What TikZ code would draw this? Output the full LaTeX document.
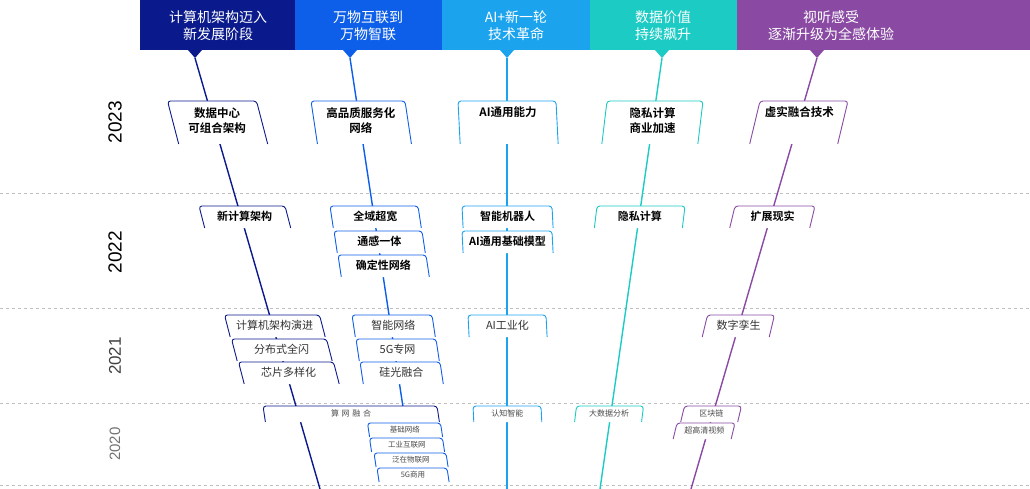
\documentclass[tikz,border=0pt]{standalone}
\usepackage{fontspec}
\setmainfont{Noto Sans CJK SC}[BoldFont={Noto Sans CJK SC Bold}]
\newfontfamily\yrfont{Liberation Sans}
\definecolor{cA}{HTML}{0A1A8C}
\definecolor{cB}{HTML}{0D5EE8}
\definecolor{cC}{HTML}{1BA3EE}
\definecolor{cD}{HTML}{1CCBC3}
\definecolor{cE}{HTML}{8A4AA3}
\newcommand\tb[9]{%
  \fill[white] ({#2-#4/2+#6*#5},{#3+#5}) -- ({#2-#4/2},#3) -- ({#2+#4/2},#3) -- ({#2+#4/2+#6*#5},{#3+#5}) -- cycle;
  \draw[#7,line width=0.9pt,rounded corners=3pt] ({#2-#4/2+#6*#5},{#3+#5}) -- ({#2-#4/2},#3) -- ({#2+#4/2},#3) -- ({#2+#4/2+#6*#5},{#3+#5});
  \node[#9] (#1) at ({#2+#6*#5*0.45},{#3+#5*0.45}) {#8};}
\tikzset{
  hd/.style={text=white,font=\fontsize{14}{17}\selectfont,align=center},
  ta/.style={font=\bfseries\fontsize{11.5}{15}\selectfont,align=center,text=black},
  tbs/.style={font=\bfseries\fontsize{11}{13}\selectfont,text=black},
  tc/.style={font=\fontsize{11}{13}\selectfont,text=black!80},
  td/.style={font=\fontsize{8}{10}\selectfont,text=black!70},
  te/.style={font=\fontsize{7.5}{9}\selectfont,text=black!70},
  ln/.style={line width=1.4pt},
  grid/.style={gray!50,dashed,line width=0.6pt},
  yr/.style={rotate=90,font=\yrfont\fontsize{19}{19}\selectfont}
}
\begin{document}
\begin{tikzpicture}[x=1pt,y=-1pt]
\useasboundingbox (0,0) rectangle (1030,489);
% header bands
\fill[cA] (140,0) rectangle (295,50);
\fill[cB] (295,0) rectangle (442,50);
\fill[cC] (442,0) rectangle (590,50);
\fill[cD] (590,0) rectangle (737,50);
\fill[cE] (737,0) rectangle (1030,50);
\node[hd] (h1) at (218,26) {计算机架构迈入\\新发展阶段};
\node[hd] (h2) at (368,26) {万物互联到\\万物智联};
\node[hd] (h3) at (516,26) {AI+新一轮\\技术革命};
\node[hd] (h4) at (663,26) {数据价值\\持续飙升};
\node[hd] (h5) at (831,26) {视听感受\\逐渐升级为全感体验};
% grid
\foreach \yy in {193,308,403,485} \draw[grid] (0,\yy) -- (1030,\yy);
% years
\node[yr,text=black] (y23) at (115,122) {2023};
\node[yr,text=black] (y22) at (115,252) {2022};
\node[yr,text=black!75,font=\yrfont\fontsize{17}{17}\selectfont] (y21) at (115,356) {2021};
\node[yr,text=black!55,font=\yrfont\fontsize{15}{15}\selectfont] (y20) at (115,444) {2020};
% pointers
\coordinate (p1) at (195,58); \coordinate (p2) at (350,58); \coordinate (p3) at (507,58);
\coordinate (p4) at (662,58); \coordinate (p5) at (817,58);
\fill[cA] (188,50) -- (202,50) -- (p1) -- cycle;
\fill[cB] (343,50) -- (357,50) -- (p2) -- cycle;
\fill[cC] (500,50) -- (514,50) -- (p3) -- cycle;
\fill[cD] (655,50) -- (669,50) -- (p4) -- cycle;
\fill[cE] (810,50) -- (824,50) -- (p5) -- cycle;
\coordinate (e1) at (320,489); \coordinate (e3) at (507,489);
\coordinate (e4) at (600,489); \coordinate (e5) at (691,489);
\coordinate (e2) at (403,407);
\draw[cA,ln] (p1) -- (e1);
\draw[cB,ln] (p2) -- (e2);
\draw[cC,ln] (p3) -- (e3);
\draw[cD,ln] (p4) -- (e4);
\draw[cE,ln] (p5) -- (e5);
% 2023
\tb{a1}{212}{101}{89}{43}{0.26}{cA}{数据中心\\可组合架构}{ta}
\tb{a2}{358}{101}{94}{43}{0.15}{cB}{高品质服务化\\网络}{ta}
\tb{a3}{507}{101}{98}{43}{0.05}{cC}{AI通用能力}{ta,yshift=8pt}
\tb{a4}{655}{101}{96}{43}{-0.12}{cD}{隐私计算\\商业加速}{ta}
\tb{a5}{804}{101}{88}{43}{-0.24}{cE}{虚实融合技术}{ta,yshift=8pt}
% 2022
\tb{b1}{242}{206}{86}{22}{0.26}{cA}{新计算架构}{tbs}
\tb{b2}{374}{206}{88}{22}{0.15}{cB}{全域超宽}{tbs}
\tb{b3}{378}{231}{88}{22}{0.15}{cB}{通感一体}{tbs}
\tb{b4}{382}{255}{88}{22}{0.15}{cB}{确定性网络}{tbs}
\tb{b5}{507}{206}{90}{22}{0.05}{cC}{智能机器人}{tbs}
\tb{b6}{507}{231}{90}{22}{0.05}{cC}{AI通用基础模型}{tbs}
\tb{b7}{641}{206}{88}{22}{-0.12}{cD}{隐私计算}{tbs}
\tb{b8}{775}{206}{80}{22}{-0.24}{cE}{扩展现实}{tbs}
% 2021
\tb{c1}{272}{315}{95}{22}{0.26}{cA}{计算机架构演进}{tc}
\tb{c2}{279}{339}{95}{22}{0.26}{cA}{分布式全闪}{tc}
\tb{c3}{286}{362}{95}{22}{0.26}{cA}{芯片多样化}{tc}
\tb{c4}{392}{315}{80}{22}{0.15}{cB}{智能网络}{tc}
\tb{c5}{396}{339}{80}{22}{0.15}{cB}{5G专网}{tc}
\tb{c6}{400}{362}{80}{22}{0.15}{cB}{硅光融合}{tc}
\tb{c7}{507}{315}{78}{22}{0.05}{cC}{AI工业化}{tc}
\tb{c8}{741}{315}{67}{22}{-0.24}{cE}{数字孪生}{tc}
% 2020
\tb{d1}{350}{406}{174}{16}{0.15}{cA}{算\,\,网\,\,融\,\,合}{td}
\tb{d2}{404}{423}{73}{14}{0.15}{cB}{基础网络}{te}
\tb{d3}{406}{438}{73}{14}{0.15}{cB}{工业互联网}{te}
\tb{d4}{410}{453}{72}{14}{0.15}{cB}{泛在物联网}{te}
\tb{d5}{412}{468}{70}{14}{0.15}{cB}{5G商用}{te}
\tb{d6}{507}{406}{68}{16}{0.05}{cC}{认知智能}{td}
\tb{d7}{610}{406}{67}{16}{-0.12}{cD}{大数据分析}{td}
\tb{d8}{713}{406}{57}{16}{-0.24}{cE}{区块链}{td}
\tb{d9}{706}{423}{58}{16}{-0.24}{cE}{超高清视频}{td}
\end{tikzpicture}
\end{document}
